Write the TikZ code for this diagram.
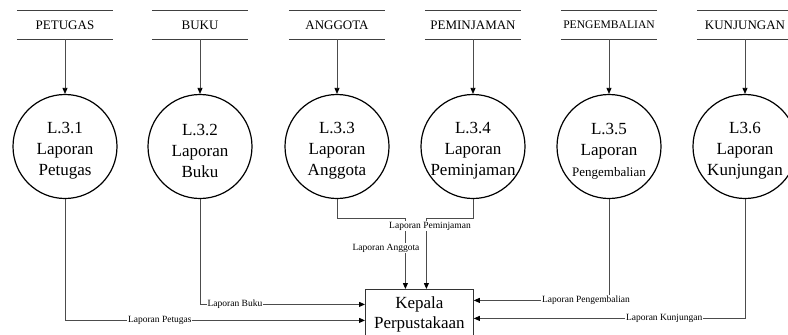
\documentclass[tikz,border=0pt]{standalone}
\usepackage{fontspec}
\setmainfont{Liberation Serif}
\usetikzlibrary{arrows.meta}
\begin{document}
\begin{tikzpicture}[x=1pt,y=-1pt,
  proc/.style={circle, draw=black, line width=1.2pt, minimum size=104pt, inner sep=0pt},
  ptext/.style={align=center, font=\fontsize{17}{21}\selectfont, inner sep=0pt},
  store/.style={minimum width=96pt, minimum height=28pt, inner sep=0pt, font=\fontsize{13}{15}\selectfont},
  storeline/.style={draw=black!75, line width=0.8pt},
  flow/.style={draw=black!70, line width=0.8pt, -{Triangle[length=6pt,width=5pt,color=black]}},
  lbl/.style={font=\fontsize{9.5}{11}\selectfont, fill=white, inner sep=0.6pt},
  entity/.style={draw=black!80, line width=0.8pt, minimum width=108pt, minimum height=50pt,
    align=center, font=\fontsize{17}{20}\selectfont, inner sep=0pt}
]
\useasboundingbox (0,0) rectangle (788,335);
\clip (0,0) rectangle (788,335);

% data stores
\node[store] (s1) at (65,25)  {PETUGAS};
\node[store] (s2) at (200,25) {BUKU};
\node[store] (s3) at (337,25) {ANGGOTA};
\node[store] (s4) at (473,25) {PEMINJAMAN};
\node[store, font=\fontsize{11.6}{14}\selectfont] (s5) at (609,25) {PENGEMBALIAN};
\node[store] (s6) at (745,25) {KUNJUNGAN};
\foreach \s in {s1,s2,s3,s4,s5,s6}
  \draw[storeline] (\s.north west) -- (\s.north east) (\s.south west) -- (\s.south east);

% report processes
\node[proc] (p1) at (65,146.5)  {};
\node[proc] (p2) at (200,146.5) {};
\node[proc] (p3) at (337,146.5) {};
\node[proc] (p4) at (473,146.5) {};
\node[proc] (p5) at (609,146.5) {};
\node[proc] (p6) at (745,146.5) {};
\node[ptext] (t1) at (65,151)  {L.3.1\\Laporan\\Petugas};
\node[ptext] (t2) at (200,151) {L.3.2\\Laporan\\Buku};
\node[ptext] (t3) at (337,151) {L.3.3\\Laporan\\Anggota};
\node[ptext] (t4) at (473,151) {L.3.4\\Laporan\\Peminjaman};
\node[ptext] (t5) at (609,151) {L.3.5\\Laporan\\{\fontsize{13}{15}\selectfont Pengembalian}};
\node[ptext] (t6) at (745,151) {L3.6\\Laporan\\Kunjungan};

% external entity
\node[entity, anchor=north west] (kp) at (365,289) {Kepala\\Perpustakaan};

% store -> process
\foreach \i in {1,...,6}
  \draw[flow] (s\i.south) -- (p\i.north);

% process -> entity
\draw[flow] (p1.south) |- node[lbl, pos=0.658] {Laporan Petugas} ([yshift=-6pt]kp.west);
\draw[flow] (p2.south) |- node[lbl, pos=0.606] {Laporan Buku} ([yshift=10pt]kp.west);
\draw[flow] (p3.south) -- ++(0,19.5) -| ([xshift=-14pt]kp.north);
\draw[flow] (p4.south) -- ++(0,19.5) -| ([xshift=7pt]kp.north);
\draw[flow] (p5.south) |- node[lbl, pos=0.585] {Laporan Pengembalian} ([yshift=14pt]kp.east);
\draw[flow] (p6.south) |- node[lbl, pos=0.649] {Laporan Kunjungan} ([yshift=-4pt]kp.east);
\node[lbl] (la) at (386,248) {Laporan Anggota};
\node[lbl] (lp) at (430,226) {Laporan Peminjaman};
\end{tikzpicture}
\end{document}
